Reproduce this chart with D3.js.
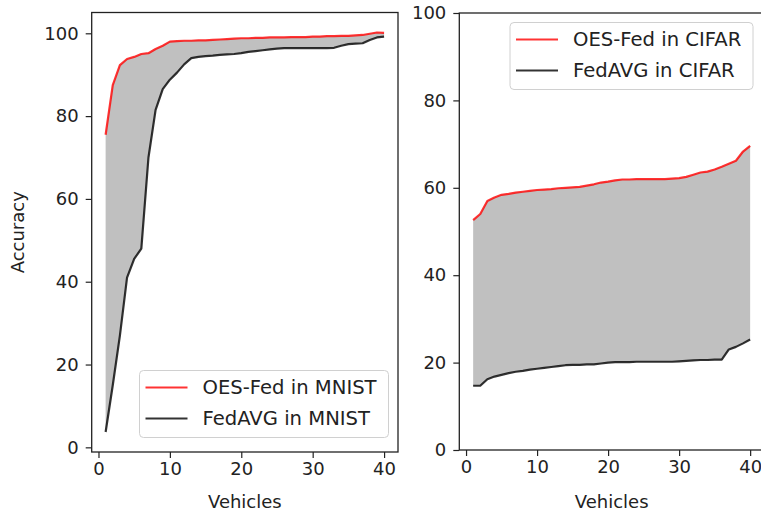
<!DOCTYPE html>
<html>
<head>
<meta charset="utf-8">
<script src="https://cdn.jsdelivr.net/npm/d3@7"></script>
<style>
  body { margin: 0; background: #fff; }
  svg { display: block; font-family: "DejaVu Sans", sans-serif; }
</style>
</head>
<body>
<svg id="chart" width="761" height="517"></svg>
<script>
// vehicles 1..40
const vehicles = d3.range(1, 41)

const oesMnist = [75.5, 87.5, 92.3, 93.8, 94.3, 95.0, 95.2, 96.2, 97.0, 98.0,
    98.1, 98.2, 98.2, 98.3, 98.3, 98.4, 98.5, 98.6, 98.7, 98.8,
    98.8, 98.9, 98.9, 99.0, 99.0, 99.0, 99.1, 99.1, 99.1, 99.2,
    99.2, 99.3, 99.3, 99.4, 99.4, 99.5, 99.6, 99.9, 100.2, 100.1]
const avgMnist = [3.7, 15.0, 27.0, 41.0, 45.5, 48.0, 70.0, 81.5, 86.5, 88.8,
    90.5, 92.5, 94.0, 94.3, 94.5, 94.6, 94.8, 94.9, 95.0, 95.2,
    95.5, 95.7, 95.9, 96.1, 96.3, 96.4, 96.4, 96.4, 96.4, 96.4,
    96.4, 96.4, 96.5, 97.0, 97.4, 97.5, 97.6, 98.4, 99.0, 99.2]

const oesCifar = [52.6, 54.0, 57.0, 57.8, 58.4, 58.6, 58.9, 59.1, 59.3, 59.5,
    59.6, 59.7, 59.9, 60.0, 60.1, 60.2, 60.5, 60.8, 61.2, 61.4,
    61.7, 61.9, 61.9, 62.0, 62.0, 62.0, 62.0, 62.0, 62.1, 62.2,
    62.5, 63.0, 63.5, 63.7, 64.2, 64.8, 65.5, 66.2, 68.3, 69.6]
const avgCifar = [14.7, 14.7, 16.2, 16.8, 17.2, 17.6, 17.9, 18.1, 18.4, 18.6,
    18.8, 19.0, 19.2, 19.4, 19.5, 19.5, 19.6, 19.6, 19.8, 20.0,
    20.1, 20.1, 20.1, 20.2, 20.2, 20.2, 20.2, 20.2, 20.2, 20.3,
    20.4, 20.5, 20.6, 20.6, 20.7, 20.7, 23.0, 23.6, 24.4, 25.3]

const xTicks = [0, 10, 20, 30, 40]
const yTicks = [0, 20, 40, 60, 80, 100]
const fontSize = 18

const svg = d3.select("#chart")

// matplotlib style 5% margins
function padded(lo, hi) {
    let m = (hi - lo) * 0.05
    return [lo - m, hi + m]
}

function drawPanel(box, top, bottom, labels, yDomain, legendPos, showYLabel) {
    let x = d3.scaleLinear().domain(padded(1, 40)).range([box.left, box.right])
    let y = d3.scaleLinear().domain(yDomain).range([box.bottom, box.top])

    let g = svg.append("g")

    let area = d3.area()
        .x((d, i) => x(vehicles[i]))
        .y0((d, i) => y(bottom[i]))
        .y1(d => y(d))
    g.append("path").attr("d", area(top)).attr("fill", "#c0c0c0")

    let line = d3.line().x((d, i) => x(vehicles[i])).y(d => y(d))
    g.append("path").attr("d", line(top))
        .attr("fill", "none").attr("stroke", "red").attr("stroke-opacity", 0.8)
        .attr("stroke-width", 2.2).attr("stroke-linejoin", "round")
    g.append("path").attr("d", line(bottom))
        .attr("fill", "none").attr("stroke", "black").attr("stroke-opacity", 0.8)
        .attr("stroke-width", 2.2).attr("stroke-linejoin", "round")

    // frame
    g.append("rect")
        .attr("x", box.left).attr("y", box.top)
        .attr("width", box.right - box.left).attr("height", box.bottom - box.top)
        .attr("fill", "none").attr("stroke", "#222").attr("stroke-width", 1.3)

    let xAxis = g.append("g").attr("transform", `translate(0,${box.bottom})`)
        .call(d3.axisBottom(x).tickValues(xTicks).tickSize(6).tickPadding(4))
    let yAxis = g.append("g").attr("transform", `translate(${box.left},0)`)
        .call(d3.axisLeft(y).tickValues(yTicks).tickSize(6).tickPadding(7))
    for (let a of [xAxis, yAxis]) {
        a.select(".domain").remove()
        a.selectAll("line").attr("stroke", "#222").attr("stroke-width", 1.2)
        a.selectAll("text").attr("font-size", fontSize).attr("fill", "#222")
            .attr("font-family", "DejaVu Sans")
    }

    g.append("text")
        .attr("x", x(20.5)).attr("y", 508)
        .attr("text-anchor", "middle").attr("font-size", fontSize).attr("fill", "#222")
        .text("Vehicles")
    if (showYLabel) {
        g.append("text")
            .attr("transform", `translate(24,${(box.top + box.bottom) / 2}) rotate(-90)`)
            .attr("text-anchor", "middle").attr("font-size", fontSize).attr("fill", "#222")
            .text("Accuracy")
    }

    // legend
    let lg = g.append("g").attr("transform", `translate(${legendPos.x},${legendPos.y})`)
    lg.append("rect").attr("width", legendPos.w).attr("height", 67)
        .attr("rx", 4).attr("fill", "white").attr("fill-opacity", 0.8)
        .attr("stroke", "#d0d0d0")
    let colors = ["red", "black"]
    labels.forEach((t, i) => {
        let yy = 17 + i * 31
        lg.append("line").attr("x1", 6).attr("x2", 48).attr("y1", yy).attr("y2", yy)
            .attr("stroke", colors[i]).attr("stroke-opacity", 0.8).attr("stroke-width", 2.2)
        lg.append("text").attr("x", 63).attr("y", yy).attr("dy", "0.35em")
            .attr("font-size", fontSize + 1.6).attr("fill", "#222").text(t)
    })
}

drawPanel({ left: 91.7, right: 398, top: 12.5, bottom: 452 }, oesMnist, avgMnist,
    ["OES-Fed in MNIST", "FedAVG in MNIST"],
    padded(d3.min(avgMnist), d3.max(oesMnist)),
    { x: 139.5, y: 370.5, w: 249 }, true)

drawPanel({ left: 459.3, right: 764, top: 13, bottom: 450 }, oesCifar, avgCifar,
    ["OES-Fed in CIFAR", "FedAVG in CIFAR"],
    [0, 100],
    { x: 510, y: 22.5, w: 243 }, false)
</script>
</body>
</html>
